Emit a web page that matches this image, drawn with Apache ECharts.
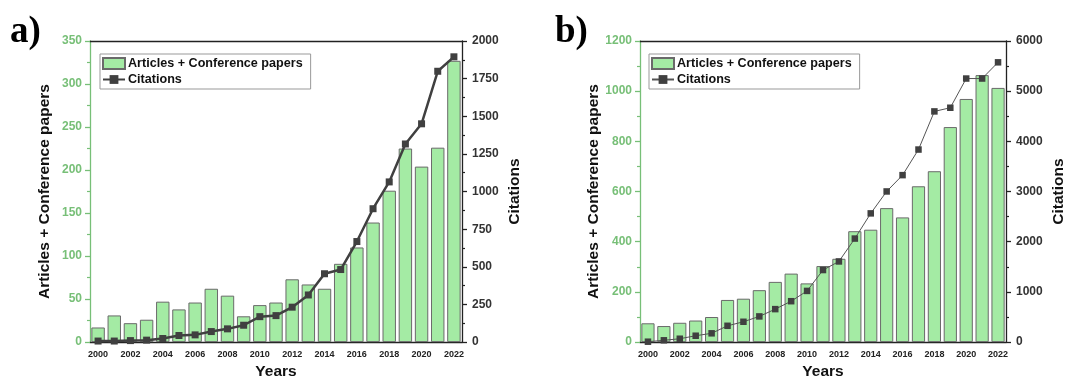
<!DOCTYPE html>
<html>
<head>
<meta charset="utf-8">
<script src="https://cdn.jsdelivr.net/npm/echarts@6/dist/echarts.min.js"></script>
<style>
  html, body { margin: 0; padding: 0; background: #fff; }
  #chart { width: 1068px; height: 385px; }
</style>
</head>
<body>
<div id="chart"></div>
<script>
  // 数据
  var years = ["2000","2001","2002","2003","2004","2005","2006","2007","2008","2009","2010","2011",
               "2012","2013","2014","2015","2016","2017","2018","2019","2020","2021","2022"];
  var papersA = [17, 31, 22, 26, 47, 38, 46, 62, 54, 30, 43, 46, 73, 67, 62, 91, 110, 139, 176, 225, 204, 226, 327];
  var citationsA = [7, 7, 10, 13, 24, 44, 48, 70, 88, 112, 169, 176, 232, 313, 454, 482, 668, 886, 1064, 1316, 1450, 1799, 1895];
  var papersB = [75, 64, 77, 86, 100, 168, 173, 207, 240, 273, 234, 303, 332, 442, 448, 534, 497, 621, 681, 857, 969, 1064, 1013];
  var citationsB = [8, 36, 67, 127, 175, 325, 405, 512, 657, 815, 1020, 1436, 1607, 2063, 2565, 3002, 3327, 3837, 4597, 4670, 5252, 5252, 5575];

  var font = "Liberation Sans, Arial, sans-serif";
  var green = "#77bf77";
  var dark = "#333333";

  var chart = echarts.init(document.getElementById("chart"));

  function plain(v) { return String(v); } // 不要千位分隔符

  function bottomAxis(grid) {
    return {
      type: "category", gridIndex: grid, position: "bottom", data: years,
      name: "Years", nameLocation: "middle", nameGap: 21,
      nameTextStyle: { fontFamily: font, fontWeight: "bold", fontSize: 15.5, color: "#111" },
      axisLine: { lineStyle: { color: "#222", width: 1.3 } },
      axisTick: { alignWithLabel: true, interval: 1, length: 6, lineStyle: { color: "#222", width: 1.3 } },
      axisLabel: { interval: 1, margin: 8, fontFamily: font, fontWeight: "bold", fontSize: 9, color: "#222" }
    };
  }
  function minorAxis(grid) {
    // 短刻度（每年一个）
    return {
      type: "category", gridIndex: grid, position: "bottom", data: years,
      axisLine: { show: false },
      axisTick: { alignWithLabel: true, interval: 0, length: 3, lineStyle: { color: "#222", width: 1.3 } },
      axisLabel: { show: false }
    };
  }
  function topAxis(grid) {
    return {
      type: "category", gridIndex: grid, position: "top", data: years,
      axisLine: { lineStyle: { color: "#222", width: 1.3 } },
      axisTick: { alignWithLabel: true, interval: 0, inside: true, length: 4, lineStyle: { color: "#222", width: 1.3 } },
      axisLabel: { show: false }
    };
  }
  function leftAxis(grid, max, step) {
    return {
      type: "value", gridIndex: grid, position: "left", min: 0, max: max, interval: step,
      name: "Articles + Conference papers", nameLocation: "middle", nameGap: 37, nameRotate: 90,
      nameTextStyle: { fontFamily: font, fontWeight: "bold", fontSize: 15.5, color: "#111" },
      axisLine: { show: true, lineStyle: { color: green, width: 1.3 } },
      axisTick: { show: true, length: 5, lineStyle: { color: green, width: 1.3 } },
      minorTick: { show: true, splitNumber: 2, length: 3, lineStyle: { color: green, width: 1.2 } },
      splitLine: { show: false },
      axisLabel: { margin: 8, fontFamily: font, fontWeight: "bold", fontSize: 12, color: green, formatter: plain }
    };
  }
  function rightAxis(grid, max, step) {
    return {
      type: "value", gridIndex: grid, position: "right", min: 0, max: max, interval: step,
      name: "Citations", nameLocation: "middle", nameGap: 45, nameRotate: 90,
      nameTextStyle: { fontFamily: font, fontWeight: "bold", fontSize: 15.5, color: "#111" },
      axisLine: { show: true, lineStyle: { color: "#222", width: 1.3 } },
      axisTick: { show: true, length: 5, lineStyle: { color: "#222", width: 1.3 } },
      minorTick: { show: true, splitNumber: 2, length: 3, lineStyle: { color: "#222", width: 1.2 } },
      splitLine: { show: false },
      axisLabel: { margin: 10, fontFamily: font, fontWeight: "bold", fontSize: 12, color: dark, formatter: plain }
    };
  }
  function legend(left, idx) {
    return {
      orient: "vertical", left: left, top: 54, itemGap: 3, itemWidth: 22, itemHeight: 11,
      padding: [3, 8, 3, 2], borderColor: "#999", borderWidth: 1, backgroundColor: "#fff",
      textStyle: { fontFamily: font, fontWeight: "bold", fontSize: 12.6, color: "#111", padding: [0, 0, 0, -2] },
      data: [
        { name: "Articles + Conference papers" + idx, icon: "rect" },
        { name: "Citations" + idx }
      ],
      formatter: function (n) { return n.slice(0, -1); }
    };
  }

  var option = {
    animation: false,
    backgroundColor: "#fff",
    grid: [
      { left: 90, top: 41, width: 372, height: 302 },
      { left: 640, top: 41, width: 372, height: 302 }
    ],
    legend: [legend(100, "a"), legend(649, "b")],
    xAxis: [bottomAxis(0), minorAxis(0), topAxis(0), bottomAxis(1), minorAxis(1), topAxis(1)],
    yAxis: [leftAxis(0, 350, 50), rightAxis(0, 2000, 250), leftAxis(1, 1200, 200), rightAxis(1, 6000, 1000)],
    graphic: [
      { type: "text", left: 10, top: 14, style: { text: "a)", font: "bold 37px 'Liberation Serif', 'Times New Roman', serif", fill: "#000" } },
      { type: "text", left: 555, top: 14, style: { text: "b)", font: "bold 37px 'Liberation Serif', 'Times New Roman', serif", fill: "#000" } }
    ],
    series: [
      {
        name: "Articles + Conference papersa", type: "bar", xAxisIndex: 0, yAxisIndex: 0,
        data: papersA, barCategoryGap: "17%",
        itemStyle: { color: "#a4eba4", borderColor: "#6a6a6a", borderWidth: 1 }
      },
      {
        name: "Citationsa", type: "line", xAxisIndex: 0, yAxisIndex: 1,
        data: citationsA, symbol: "rect", symbolSize: 7, z: 5,
        lineStyle: { color: "#404040", width: 2.5 },
        itemStyle: { color: "#404040" }
      },
      {
        name: "Articles + Conference papersb", type: "bar", xAxisIndex: 3, yAxisIndex: 2,
        data: papersB, barCategoryGap: "17%",
        itemStyle: { color: "#a4eba4", borderColor: "#6a6a6a", borderWidth: 1 }
      },
      {
        name: "Citationsb", type: "line", xAxisIndex: 3, yAxisIndex: 3,
        data: citationsB, symbol: "rect", symbolSize: 6.5, z: 5,
        lineStyle: { color: "#555", width: 1 },
        itemStyle: { color: "#404040" }
      }
    ]
  };

  chart.setOption(option);
</script>
</body>
</html>
